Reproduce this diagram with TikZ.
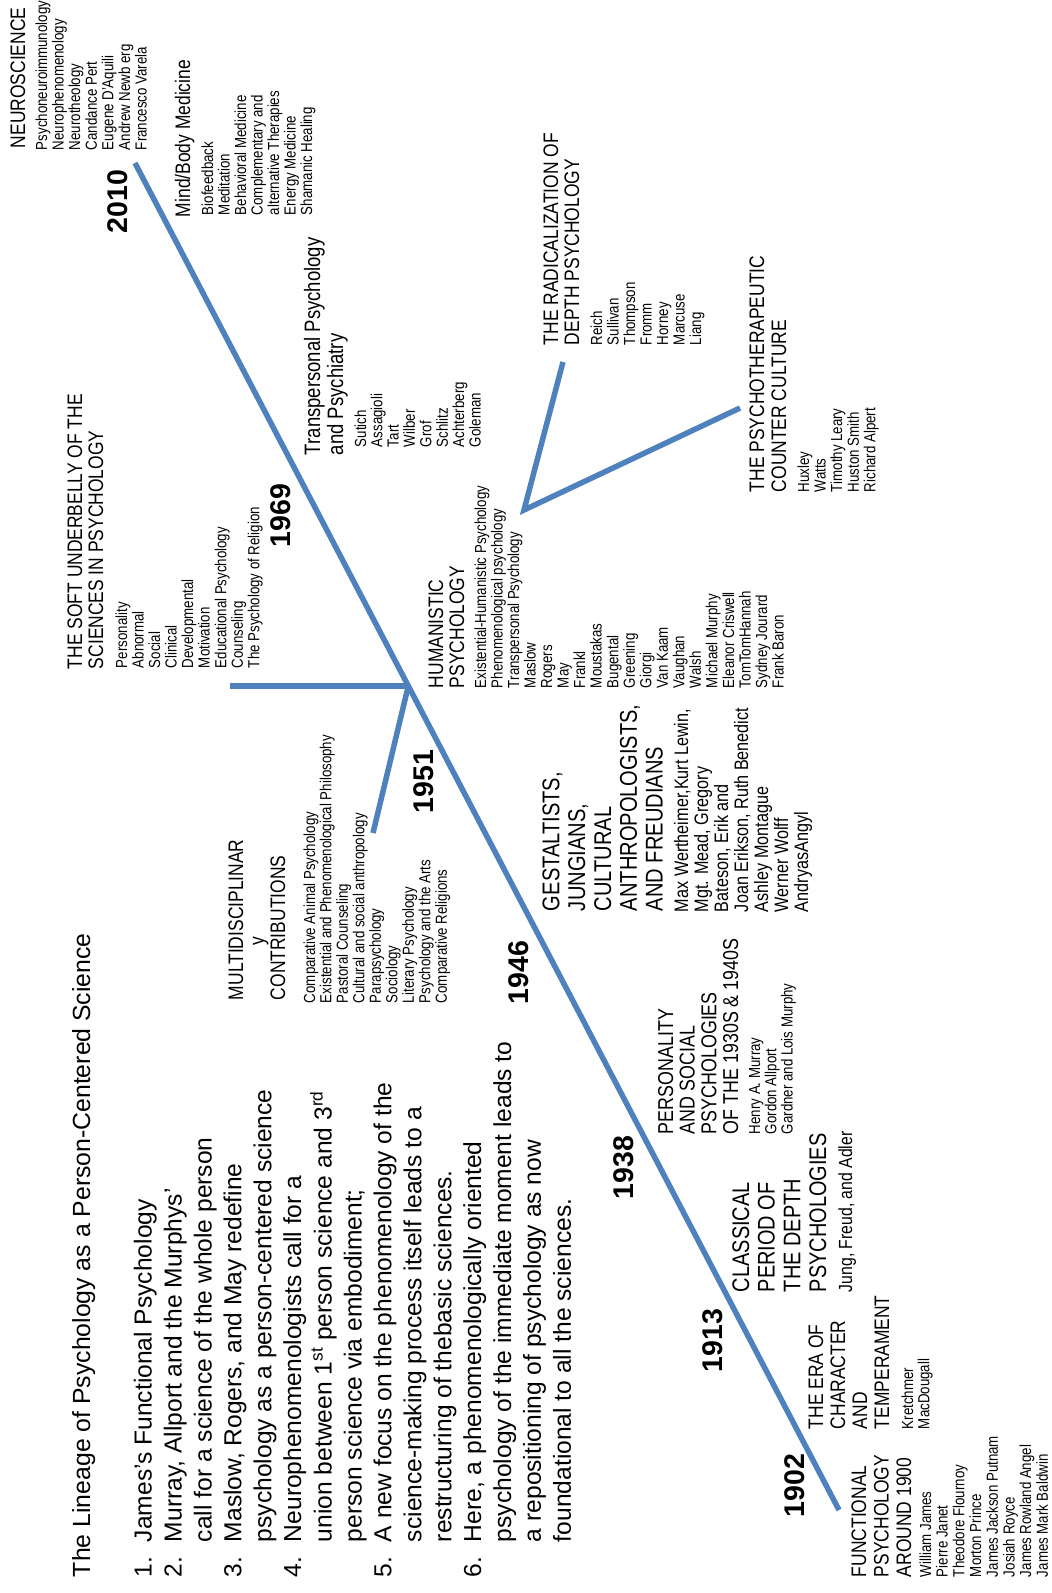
\documentclass[tikz,border=0pt]{standalone}
\usepackage{fontspec}
\setmainfont{Liberation Sans}
\newfontfamily\nar{Liberation Sans}[FakeStretch=0.83]
\definecolor{tline}{HTML}{4F81BD}
\newcommand\stack[1]{\begin{tabular}[t]{@{}l@{}}#1\end{tabular}}
\newcommand\itm[1]{\makebox[35pt][l]{#1}}
\newcommand\cnt{\hspace*{35pt}}

\begin{document}
\begin{tikzpicture}[x=1pt,y=-1pt,
  txt/.style={rotate=90, anchor=base west, inner sep=0pt, outer sep=0pt},
  nf/.style 2 args={font=\nar\fontsize{#1}{#2}\selectfont},
  rf/.style 2 args={font=\fontsize{#1}{#2}\selectfont},
  hd/.style={txt, nf={21}{21.7}},
  it/.style={txt, nf={16}{16.5}},
  yr/.style={txt, font=\bfseries\fontsize{28.5}{30}\selectfont},
  tl/.style={draw=tline, line width=5.5pt},
]
\fill[white] (0,0) rectangle (1052,1593);
\useasboundingbox (0,0) rectangle (1052,1593);

% timeline and branches
\coordinate (p1902) at (839,1510);
\coordinate (p2010) at (135,163);
\coordinate (hub) at (408.3,686);
\coordinate (softEnd) at (230,686);
\coordinate (multiEnd) at (373,833);
\coordinate (vtx) at (524,510);
\coordinate (radEnd) at (563,362);
\coordinate (ccEnd) at (740,408);
\draw[tl] (p1902) -- (p2010);
\draw[tl] (softEnd) -- (hub);
\draw[tl] (hub) -- (multiEnd);
\draw[tl] (radEnd) -- (vtx) -- (ccEnd);

% title and summary list
\node[txt, rf={24.8}{29.9}] (title) at (90,1577)
  {The Lineage of Psychology as a Person-Centered Science};
\node[txt, rf={24.6}{29.9}] (list) at (151.7,1577) {\stack{%
\itm{1.}James’s Functional Psychology\\
\itm{2.}Murray, Allport and the Murphys’\\
\cnt call for a science of the whole person\\
\itm{3.}Maslow, Rogers, and May redefine\\
\cnt psychology as a person-centered science\\
\itm{4.}Neurophenomenologists call for a\\
\cnt union between 1\textsuperscript{st} person science and 3\textsuperscript{rd}\\
\cnt person science via embodiment;\\
\itm{5.}A new focus on the phenomenology of the\\
\cnt science-making process itself leads to a\\
\cnt restructuring of thebasic sciences.\\
\itm{6.}Here, a phenomenologically oriented\\
\cnt psychology of the immediate moment leads to\\
\cnt a repositioning of psychology as now\\
\cnt foundational to all the sciences.}};

% years
\node[yr] (y2010) at (127,233) {2010};
\node[yr] (y1969) at (290,547) {1969};
\node[yr] (y1951) at (433,813) {1951};
\node[yr] (y1946) at (528,1004) {1946};
\node[yr] (y1938) at (633,1199) {1938};
\node[yr] (y1913) at (722,1372) {1913};
\node[yr] (y1902) at (804,1517) {1902};

% neuroscience
\node[hd] (neuroH) at (25,148) {NEUROSCIENCE};
\node[it, nf={16}{16.6}] (neuroI) at (47,150) {\stack{Psychoneuroimmunology\\Neurophenomenology\\Neurotheology\\Candance Pert\\Eugene D’Aquili\\Andrew Newb erg\\Francesco Varela}};

% mind/body medicine
\node[hd] (mbH) at (190,217) {Mind/Body Medicine};
\node[it, nf={16}{16.4}] (mbI) at (213,215) {\stack{Biofeedback\\Meditation\\Behavioral Medicine\\Complementary and\\alternative Therapies\\Energy Medicine\\Shamanic Healing}};

% soft underbelly
\node[hd, nf={21}{21}] (softH) at (82,669) {\stack{THE SOFT UNDERBELLY OF THE\\SCIENCES IN PSYCHOLOGY}};
\node[it] (softI) at (127,668) {\stack{Personality\\Abnormal\\Social\\Clinical\\Developmental\\Motivation\\Educational Psychology\\Counseling\\The Psychology of Religion}};

% multidisciplinary contributions
\node[hd, nf={21}{21}] (multiH) at (243,1000) {\stack{MULTIDISCIPLINAR\\\hspace*{55pt}y\\CONTRIBUTIONS}};
\node[it, nf={16}{16.25}] (multiI) at (315,1003) {\stack{Comparative Animal Psychology\\Existential and Phenomenological Philosophy\\Pastoral Counseling\\Cultural and social anthropology\\Parapsychology\\Sociology\\Literary Psychology\\Psychology and the Arts\\Comparative Religions}};

% transpersonal
\node[txt, nf={22.3}{23}] (transH) at (320,455) {\stack{Transpersonal Psychology\\and Psychiatry}};
\node[it, nf={16}{16.1}] (transI) at (366,447) {\stack{Sutich\\Assagioli\\Tart\\Wilber\\Grof\\Schlitz\\Achterberg\\Goleman}};

% humanistic
\node[hd, nf={21}{21}] (humH) at (443,688) {\stack{HUMANISTIC\\PSYCHOLOGY}};
\node[it] (humI) at (486,688) {\stack{Existential-Humanistic Psychology\\Phenomenological psychology\\Transpersonal Psychology\\Maslow\\Rogers\\May\\Frankl\\Moustakas\\Bugental\\Greening\\Giorgi\\Van Kaam\\Vaughan\\Walsh\\Michael Murphy\\Eleanor Criswell\\TomTomHannah\\Sydney Jourard\\Frank Baron}};

% gestaltists
\node[txt, nf={24.2}{25.8}] (gestH) at (559.4,911) {\stack{GESTALTISTS,\\JUNGIANS,\\CULTURAL\\ANTHROPOLOGISTS,\\AND FREUDIANS}};
\node[txt, nf={19.5}{19.7}] (gestI) at (688,912) {\stack{Max Wertheimer,Kurt Lewin,\\Mgt. Mead, Gregory\\Bateson, Erik and\\Joan Erikson, Ruth Benedict\\Ashley Montague\\Werner Wolff\\AndryasAngyl}};

% radicalization
\node[hd, nf={21}{21}] (radH) at (558,345) {\stack{THE RADICALIZATION OF\\DEPTH PSYCHOLOGY}};
\node[it] (radI) at (602,345) {\stack{Reich\\Sullivan\\Thompson\\Fromm\\Horney\\Marcuse\\Liang}};

% counter culture
\node[hd, nf={21}{22}] (ccH) at (764,492) {\stack{THE PSYCHOTHERAPEUTIC\\COUNTER CULTURE}};
\node[it, nf={16}{16.6}] (ccI) at (809,492) {\stack{Huxley\\Watts\\Timothy Leary\\Huston Smith\\Richard Alpert}};

% personality and social
\node[hd, nf={21.5}{21.7}] (persH) at (673,1134) {\stack{PERSONALITY\\AND SOCIAL\\PSYCHOLOGIES\\OF THE 1930S \& 1940S}};
\node[it, nf={16}{15.8}] (persI) at (760,1134) {\stack{Henry A. Murray\\Gordon Allport\\Gardner and Lois Murphy}};

% classical depth psychologies
\node[txt, nf={24}{25.7}] (classH) at (749,1292) {\stack{CLASSICAL\\PERIOD OF\\THE DEPTH\\PSYCHOLOGIES}};
\node[txt, nf={19}{19}] (classI) at (852,1292) {Jung, Freud, and Adler};

% character and temperament
\node[hd, nf={21}{22}] (eraH) at (823,1429) {\stack{THE ERA OF\\CHARACTER\\AND\\TEMPERAMENT}};
\node[it, nf={16}{16}] (eraI) at (913,1429) {\stack{Kretchmer\\MacDougall}};

% functional psychology
\node[hd, nf={21}{22.5}] (funcH) at (866,1577) {\stack{FUNCTIONAL\\PSYCHOLOGY\\AROUND 1900}};
\node[it, nf={16}{16.7}] (funcI) at (931,1577) {\stack{William James\\Pierre Janet\\Theodore Flournoy\\Morton Prince\\James Jackson Putnam\\Josiah Royce\\James Rowland Angel\\James Mark Baldwin}};
\end{tikzpicture}
\end{document}
